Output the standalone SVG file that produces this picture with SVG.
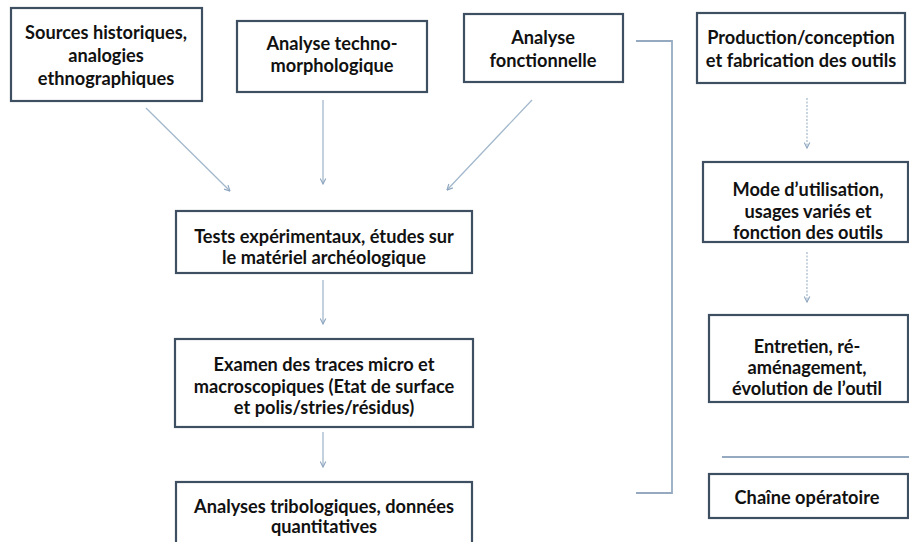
<svg xmlns="http://www.w3.org/2000/svg" width="909" height="542" viewBox="0 0 909 542">
<defs>
<style>
.box{fill:#ffffff;stroke:#3f4f62;stroke-width:2.2}
.t{font-family:Lato,"Open Sans","Liberation Sans",sans-serif;font-weight:bold;font-size:18.2px;fill:#111111;text-anchor:middle}
.c{fill:none;stroke:#a3b8cc;stroke-width:1.3}
.d{fill:none;stroke:#a3b8cc;stroke-width:1.2;stroke-dasharray:2 1.5}
.b{fill:none;stroke:#95aac0;stroke-width:1.8}
</style>
<marker id="ah" viewBox="0 0 10 10" refX="9" refY="5" markerWidth="7" markerHeight="7" orient="auto" markerUnits="userSpaceOnUse">
<path d="M1,1 L9,5 L1,9" fill="none" stroke="#8ea6bf" stroke-width="1.6"/>
</marker>
</defs>
<rect width="909" height="542" fill="#ffffff"/>
<g id="connectors">
<line class="c" x1="146" y1="108" x2="230" y2="191" marker-end="url(#ah)"/>
<line class="c" x1="323" y1="100" x2="323" y2="184" marker-end="url(#ah)"/>
<line class="c" x1="532" y1="100" x2="447" y2="190" marker-end="url(#ah)"/>
<line class="c" x1="323" y1="280" x2="323" y2="324" marker-end="url(#ah)"/>
<line class="c" x1="323" y1="432" x2="323" y2="467" marker-end="url(#ah)"/>
<line class="d" x1="807" y1="98" x2="807" y2="148" marker-end="url(#ah)"/>
<line class="d" x1="807" y1="252" x2="807" y2="302" marker-end="url(#ah)"/>
<polyline class="b" points="636,41 672,41 672,493 636,493"/>
<line class="b" x1="722" y1="457" x2="909" y2="457"/>
</g>
<g id="n1"><rect class="box" x="11" y="8" width="191" height="93"/>
<text class="t" x="106" y="39">Sources historiques,</text>
<text class="t" x="106" y="62">analogies</text>
<text class="t" x="106" y="85">ethnographiques</text></g>
<g id="n2"><rect class="box" x="237" y="21" width="190" height="71"/>
<text class="t" x="332" y="50">Analyse techno-</text>
<text class="t" x="332" y="72">morphologique</text></g>
<g id="n3"><rect class="box" x="464" y="14" width="159" height="68"/>
<text class="t" x="543" y="44">Analyse</text>
<text class="t" x="543" y="67">fonctionnelle</text></g>
<g id="n4"><rect class="box" x="697" y="13" width="208" height="70"/>
<text class="t" x="801" y="44">Production/conception</text>
<text class="t" x="801" y="67">et fabrication des outils</text></g>
<g id="n5"><rect class="box" x="703" y="162" width="205" height="80"/>
<text class="t" x="808" y="196">Mode d’utilisation,</text>
<text class="t" x="808" y="218">usages variés et</text>
<text class="t" x="808" y="239">fonction des outils</text></g>
<g id="n6"><rect class="box" x="709" y="315" width="199" height="87"/>
<text class="t" x="807" y="353">Entretien, ré-</text>
<text class="t" x="807" y="374">aménagement,</text>
<text class="t" x="807" y="395">évolution de l’outil</text></g>
<g id="n7"><rect class="box" x="709" y="474" width="199" height="44"/>
<text class="t" x="807" y="504">Chaîne opératoire</text></g>
<g id="n8"><rect class="box" x="176" y="211" width="296" height="62"/>
<text class="t" x="324" y="243">Tests expérimentaux, études sur</text>
<text class="t" x="324" y="264">le matériel archéologique</text></g>
<g id="n9"><rect class="box" x="175" y="339" width="298" height="88"/>
<text class="t" x="324" y="371">Examen des traces micro et</text>
<text class="t" x="324" y="393">macroscopiques (Etat de surface</text>
<text class="t" x="324" y="414">et polis/stries/résidus)</text></g>
<g id="n10"><rect class="box" x="176" y="482" width="296" height="70"/>
<text class="t" x="324" y="513">Analyses tribologiques, données</text>
<text class="t" x="324" y="533">quantitatives</text></g>
</svg>
